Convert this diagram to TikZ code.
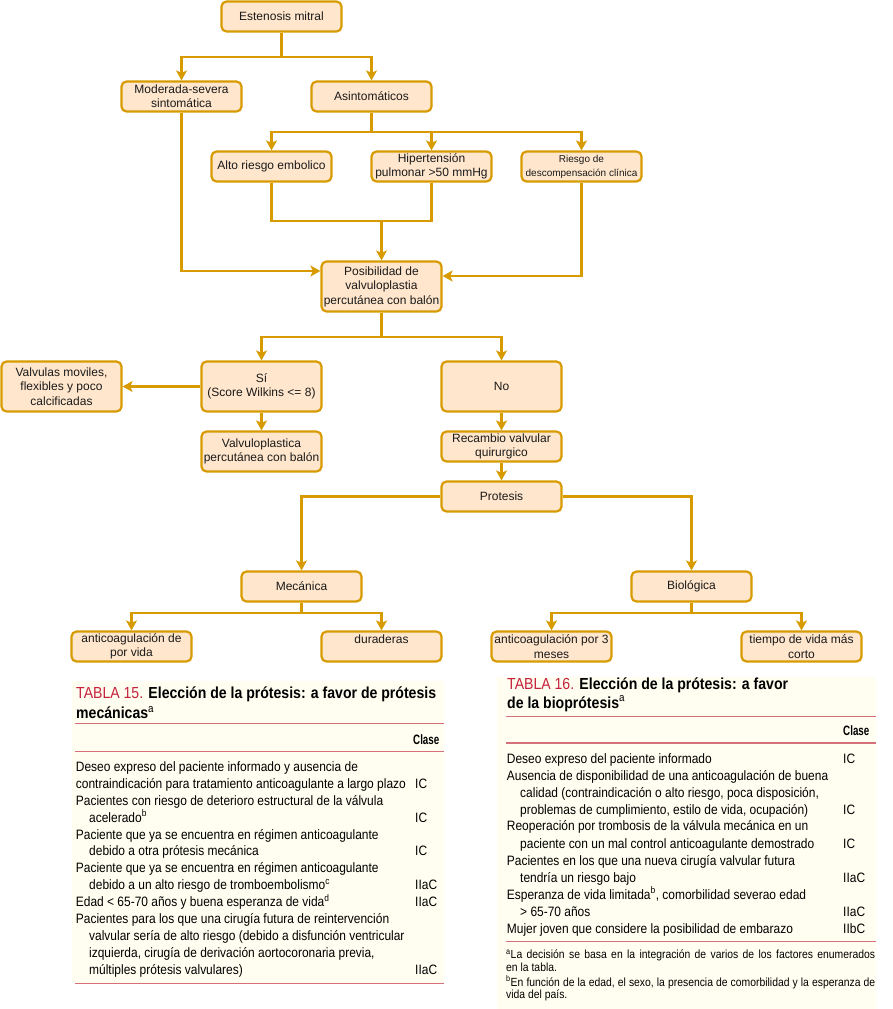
\documentclass[tikz,border=0pt]{standalone}
\usepackage{fontspec}
\setmainfont{Liberation Sans}
\newfontfamily\condfont[FakeStretch=0.88]{Liberation Sans}
\newfontfamily\clasefont[FakeStretch=0.72]{Liberation Sans}
\usetikzlibrary{arrows.meta}
\definecolor{boxfill}{HTML}{FFE6CC}
\definecolor{boxdraw}{HTML}{D79B00}
\definecolor{cream}{HTML}{FFFEF0}
\definecolor{tred}{HTML}{C4223C}
\definecolor{tline}{HTML}{D6707A}
\definecolor{txt}{HTML}{1A1A1A}
\newcommand\myrow[4]{\node[tb] (#1) at (#2,#3) {#4};}
\begin{document}
\begin{tikzpicture}[x=1pt,y=-1pt,
  box/.style={draw=boxdraw, fill=boxfill, line width=2.2pt, rounded corners=5pt,
    minimum width=120pt, minimum height=30pt, inner sep=1pt, align=center,
    font=\fontsize{12}{14.4}\selectfont, text=txt},
  arr/.style={draw=boxdraw, line width=2.2pt, -{Stealth[length=10pt,width=11pt,inset=2.5pt]}},
  ln/.style={draw=boxdraw, line width=2.2pt},
  tb/.style={anchor=base west, inner sep=0pt, font=\condfont\fontsize{13.6}{16}\selectfont, text=black},
  ttl/.style={anchor=base west, inner sep=0pt, font=\condfont\fontsize{16}{20}\selectfont, text=black},
  fn/.style={anchor=base west, inner sep=0pt, font=\condfont\fontsize{11.8}{13}\selectfont, text=black},
  cls/.style={anchor=base west, inner sep=0pt, font=\clasefont\bfseries\fontsize{13.6}{16}\selectfont, text=black},
  rule/.style={draw=tline, line width=1.2pt}
]
\useasboundingbox (0,0) rectangle (893,1009);

% ---------- table backgrounds ----------
\fill[cream] (72,681) rectangle (444,983);
\fill[cream] (497,677) rectangle (876,1009);

% ---------- flowchart ----------
\node[box] (est) at (281.5,16.5) {Estenosis mitral};
\node[box] (mod) at (181.5,96.5) {Moderada-severa\\sintomática};
\node[box] (asin) at (371.5,96.5) {Asintomáticos};
\node[box] (alto) at (271.5,166.5) {Alto riesgo embolico};
\node[box] (hip) at (431.5,166.5) {Hipertensión\\pulmonar >50 mmHg};
\node[box, font=\fontsize{10}{14}\selectfont] (ries) at (581.5,166.5) {Riesgo de\\descompensación clínica};
\node[box, minimum height=50pt] (pos) at (381.5,286.5) {Posibilidad de\\valvuloplastia\\percutánea con balón};
\node[box, minimum height=50pt] (si) at (261.5,386.5) {Sí\\(Score Wilkins <= 8)};
\node[box, minimum height=50pt] (valv) at (61.5,386.5) {Valvulas moviles,\\flexibles y poco\\calcificadas};
\node[box, minimum height=40pt] (vper) at (261.5,451.5) {Valvuloplastica\\percutánea con balón};
\node[box, minimum height=50pt] (no) at (501.5,386.5) {No};
\node[box] (rec) at (501.5,446.5) {Recambio valvular\\quirurgico};
\node[box] (pro) at (501.5,496.5) {Protesis};
\node[box] (mec) at (301.5,586.5) {Mecánica};
\node[box] (bio) at (691.5,586.5) {Biológica};
\node[box] (acv) at (131.5,646.5) {anticoagulación de\\por vida};
\node[box] (dur) at (381.5,646.5) {duraderas\\\mbox{}};
\node[box] (ac3) at (551.5,646.5) {anticoagulación por 3\\meses};
\node[box] (tvc) at (801.5,646.5) {tiempo de vida más\\corto};

\draw[arr] (est.south) -- ++(0,24.5) -| (mod.north);
\draw[arr] (est.south) -- ++(0,24.5) -| (asin.north);
\draw[arr] (asin.south) -- ++(0,19.5) -| (alto.north);
\draw[arr] (asin.south) -- ++(0,19.5) -| (hip.north);
\draw[arr] (asin.south) -- ++(0,19.5) -| (ries.north);
\coordinate (j1) at (381.5,221);
\draw[ln] (alto.south) |- (j1) -| (hip.south);
\draw[arr] (j1) -- (pos.north);
\draw[arr] (mod.south) |- ([yshift=15.5pt]pos.west);
\draw[arr] (ries.south) |- ([yshift=10.5pt]pos.east);
\draw[arr] (pos.south) -- ++(0,24.5) -| (si.north);
\draw[arr] (pos.south) -- ++(0,24.5) -| (no.north);
\draw[arr] (si.west) -- (valv.east);
\draw[arr] (si.south) -- (vper.north);
\draw[arr] (no.south) -- (rec.north);
\draw[arr] (rec.south) -- (pro.north);
\draw[arr] (pro.west) -| (mec.north);
\draw[arr] (pro.east) -| (bio.north);
\draw[arr] (mec.south) -- ++(0,10) -| (acv.north);
\draw[arr] (mec.south) -- ++(0,10) -| (dur.north);
\draw[arr] (bio.south) -- ++(0,10) -| (ac3.north);
\draw[arr] (bio.south) -- ++(0,10) -| (tvc.north);

% ---------- TABLA 15 ----------
\node[ttl] (t15a) at (76,698.5) {{\color{tred}TABLA 15.} \textbf{Elección de la prótesis: a favor de prótesis}};
\node[ttl] (t15b) at (76,718.5) {\textbf{mecánicas}\textsuperscript{a}};
\draw[rule] (75,723.5) -- (444,723.5);
\node[cls] (c15) at (413,744) {Clase};
\draw[rule] (75,751.5) -- (444,751.5);
\myrow{a0}{75.7}{771.2}{Deseo expreso del paciente informado y ausencia de}
\myrow{a1}{75.7}{788.1}{contraindicación para tratamiento anticoagulante a largo plazo}
\myrow{a1c}{415}{788.1}{IC}
\myrow{a2}{75.7}{805.1}{Pacientes con riesgo de deterioro estructural de la válvula}
\myrow{a3}{89}{822.0}{acelerado\textsuperscript{b}}
\myrow{a3c}{415}{822.0}{IC}
\myrow{a4}{75.7}{839.0}{Paciente que ya se encuentra en régimen anticoagulante}
\myrow{a5}{89}{855.9}{debido a otra prótesis mecánica}
\myrow{a5c}{415}{855.9}{IC}
\myrow{a6}{75.7}{872.8}{Paciente que ya se encuentra en régimen anticoagulante}
\myrow{a7}{89}{889.8}{debido a un alto riesgo de tromboembolismo\textsuperscript{c}}
\myrow{a7c}{415}{889.8}{IIaC}
\myrow{a8}{75.7}{906.7}{Edad < 65-70 años y buena esperanza de vida\textsuperscript{d}}
\myrow{a8c}{415}{906.7}{IIaC}
\myrow{a9}{75.7}{923.7}{Pacientes para los que una cirugía futura de reintervención}
\myrow{a10}{89}{940.6}{valvular sería de alto riesgo (debido a disfunción ventricular}
\myrow{a11}{89}{957.5}{izquierda, cirugía de derivación aortocoronaria previa,}
\myrow{a12}{89}{974.5}{múltiples prótesis valvulares)}
\myrow{a12c}{415}{974.5}{IIaC}
\draw[rule] (75,983.3) -- (444,983.3);

% ---------- TABLA 16 ----------
\node[ttl] (t16a) at (507,689) {{\color{tred}TABLA 16.} \textbf{Elección de la prótesis: a favor}};
\node[ttl] (t16b) at (507,708) {\textbf{de la bioprótesis}\textsuperscript{a}};
\draw[rule] (506,716.5) -- (876,716.5);
\node[cls] (c16) at (843,735) {Clase};
\draw[rule] (506,743) -- (876,743);
\myrow{b0}{506.7}{763.3}{Deseo expreso del paciente informado}
\myrow{b0c}{843}{763.3}{IC}
\myrow{b1}{506.7}{780.3}{Ausencia de disponibilidad de una anticoagulación de buena}
\myrow{b2}{520}{797.3}{calidad (contraindicación o alto riesgo, poca disposición,}
\myrow{b3}{520}{814}{problemas de cumplimiento, estilo de vida, ocupación)}
\myrow{b3c}{843}{814}{IC}
\myrow{b4}{506.7}{830.8}{Reoperación por trombosis de la válvula mecánica en un}
\myrow{b5}{520}{848}{paciente con un mal control anticoagulante demostrado}
\myrow{b5c}{843}{848}{IC}
\myrow{b6}{506.7}{865}{Pacientes en los que una nueva cirugía valvular futura}
\myrow{b7}{520}{882.2}{tendría un riesgo bajo}
\myrow{b7c}{843}{882.2}{IIaC}
\myrow{b8}{506.7}{899}{Esperanza de vida limitada\textsuperscript{b}, comorbilidad severao edad}
\myrow{b9}{520}{916}{> 65-70 años}
\myrow{b9c}{843}{916}{IIaC}
\myrow{b10}{506.7}{933.2}{Mujer joven que considere la posibilidad de embarazo}
\myrow{b10c}{843}{933.2}{IIbC}
\draw[rule] (506,941.5) -- (876,941.5);
\node[fn] (f1) at (506,958.5) {\makebox[369pt][s]{\textsuperscript{a}La decisión se basa en la integración de varios de los factores enumerados}};
\node[fn] (f2) at (506,971) {en la tabla.};
\node[fn] (f3) at (506,986) {\makebox[369pt][s]{\textsuperscript{b}En función de la edad, el sexo, la presencia de comorbilidad y la esperanza de}};
\node[fn] (f4) at (506,998.5) {vida del país.};
\end{tikzpicture}
\end{document}
